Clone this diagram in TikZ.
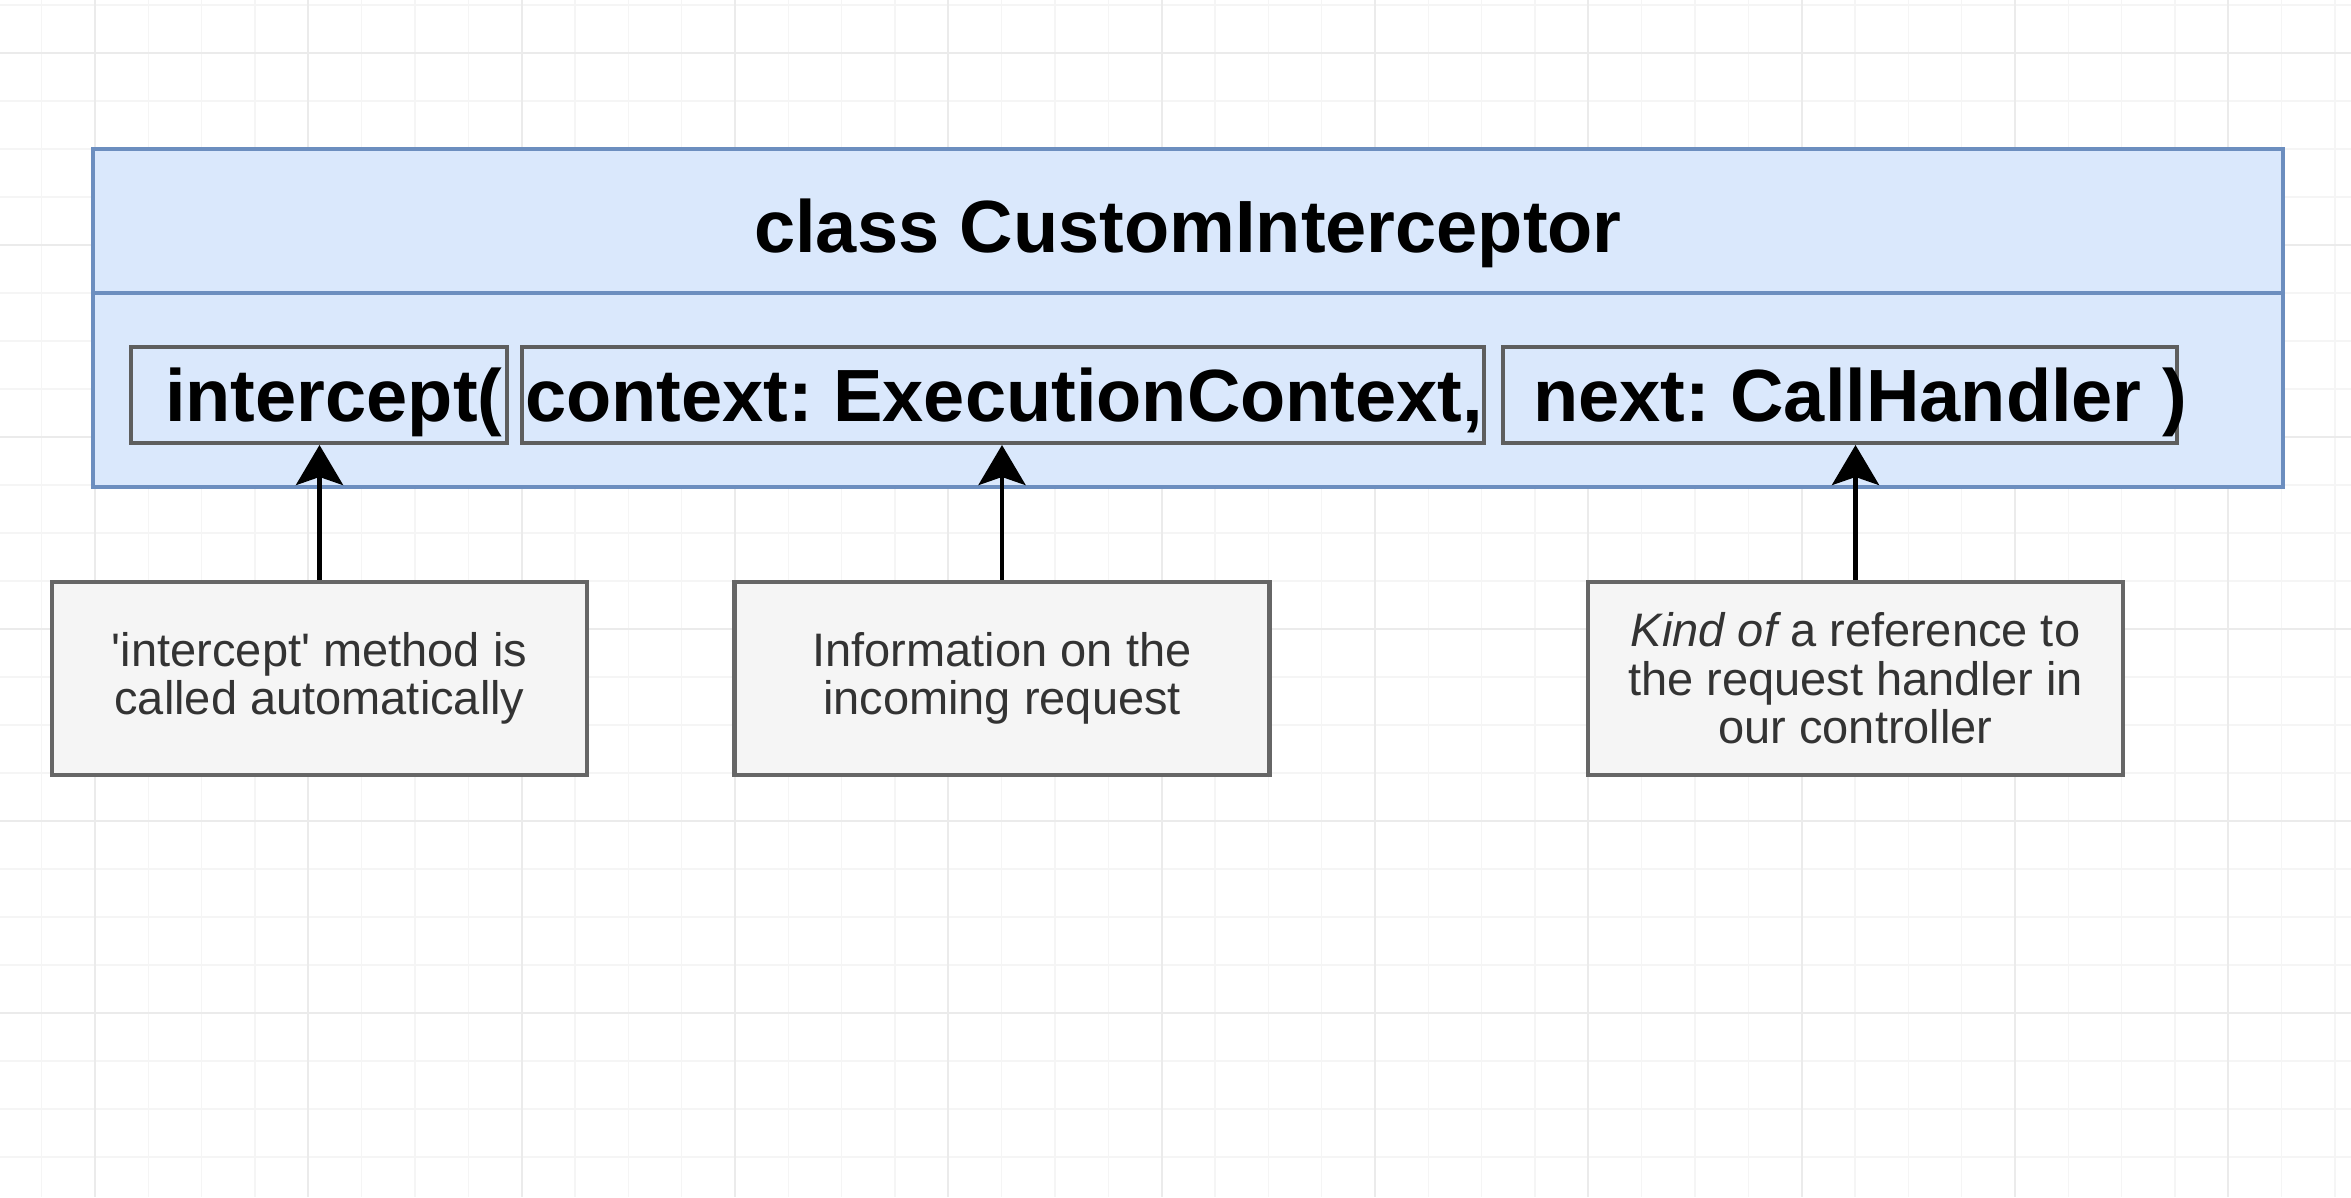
\documentclass[tikz,border=0pt]{standalone}
\usepackage{fontspec}
\usetikzlibrary{arrows.meta}
\newfontfamily\diagramfont{Liberation Sans}
\frenchspacing
\definecolor{classfill}{HTML}{DAE8FC}
\definecolor{classborder}{HTML}{6C8EBF}
\definecolor{paramborder}{HTML}{5E5E5E}
\definecolor{notefill}{HTML}{F5F5F5}
\definecolor{noteborder}{HTML}{666666}
\definecolor{notetext}{HTML}{333333}
\definecolor{gridminor}{HTML}{F5F5F5}
\definecolor{gridmajor}{HTML}{EBEBEB}

\tikzset{
    classpart/.style={draw=classborder, fill=classfill, line width=4.5pt, rectangle, inner sep=0pt, minimum width=2190pt},
    parambox/.style={draw=paramborder, line width=4pt, rectangle, inner sep=0pt, minimum height=96pt},
    paramtext/.style={font=\diagramfont\fontsize{74}{80}\selectfont\bfseries, anchor=base west, inner sep=0pt},
    notebox/.style={draw=noteborder, fill=notefill, line width=4.5pt, rectangle, inner sep=0pt,
        minimum width=535pt, minimum height=193pt, align=center, text=notetext,
        font=\diagramfont\fontsize{47}{48.5}\selectfont},
    pointer/.style={line width=4.5pt, -{Stealth[length=40pt, width=47pt, inset=8pt]}}
}

\begin{document}
\begin{tikzpicture}[x=1pt, y=-1pt]

% Canvas & grid
\useasboundingbox (0,0) rectangle (2351,1197);
\fill[white] (0,0) rectangle (2351,1197);
\foreach \i in {0,...,43}
    \draw[gridminor, line width=1.5pt] ({41.67+53.333*\i},0) -- ++(0,1197);
\foreach \j in {0,...,24}
    \draw[gridminor, line width=1.5pt] (0,{5+48*\j}) -- ++(2351,0);
\foreach \i in {0,...,10}
    \draw[gridmajor, line width=2pt] ({95+213.333*\i},0) -- ++(0,1197);
\foreach \j in {0,...,5}
    \draw[gridmajor, line width=2pt] (0,{53+192*\j}) -- ++(2351,0);

% Class box
\node[classpart, minimum height=144pt] (header) at (1188,221) {};
\node[classpart, minimum height=194pt] (body) at (1188,390) {};
\node[font=\diagramfont\fontsize{74}{80}\selectfont\bfseries, anchor=base, inner sep=0pt] (title) at (1188,252) {class CustomInterceptor};

% Signature parts
\node[parambox, minimum width=376pt] (interceptbox) at (319,395) {};
\node[parambox, minimum width=962pt] (contextbox) at (1003,395) {};
\node[parambox, minimum width=674pt] (nextbox) at (1840,395) {};
\node[paramtext] (intercepttxt) at (165,421) {intercept(};
\node[paramtext] (contexttxt) at (525,421) {context: ExecutionContext,};
\node[paramtext] (nexttxt) at (1533,421) {next: CallHandler )};

% Notes
\node[notebox] (callnote) at (319.5,678.5) {'intercept' method is\\called automatically};
\node[notebox] (requestnote) at (1002,678.5) {Information on the\\incoming request};
\node[notebox] (handlernote) at (1855.5,678.5) {{\itshape Kind of} a reference to\\the request handler in\\our controller};

% Pointers
\draw[pointer] (callnote.north) -- (callnote.north |- interceptbox.south);
\draw[pointer] (requestnote.north) -- (requestnote.north |- contextbox.south);
\draw[pointer] (handlernote.north) -- (handlernote.north |- nextbox.south);

\end{tikzpicture}
\end{document}
